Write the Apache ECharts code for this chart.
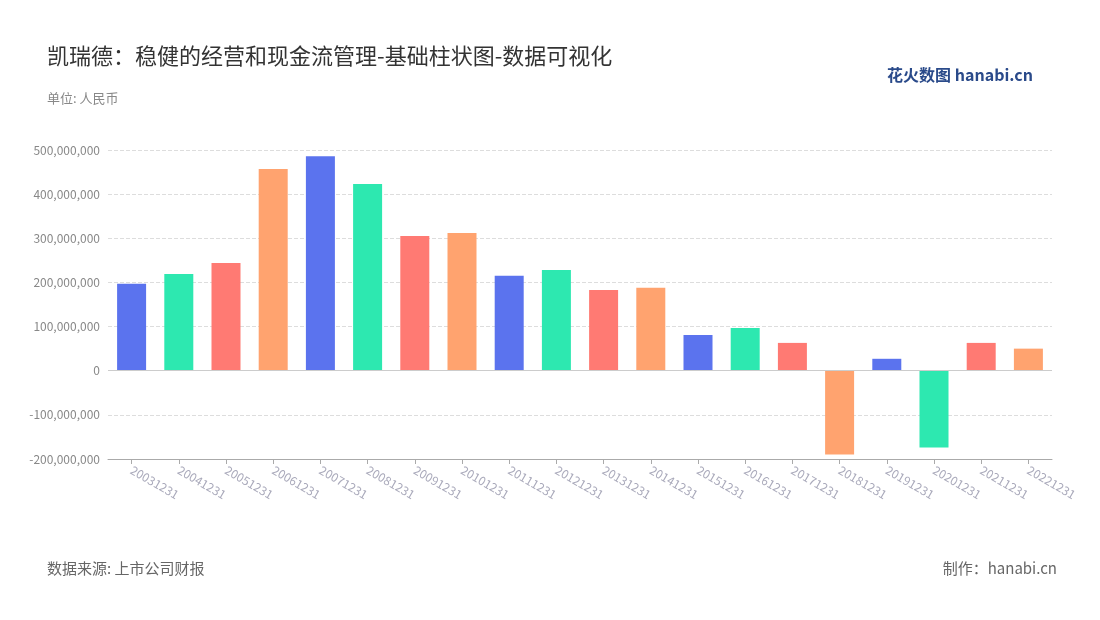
<!DOCTYPE html>
<html><head><meta charset="utf-8">
<script src="https://cdn.jsdelivr.net/npm/echarts@6/dist/echarts.min.js"></script>
<style>html,body{margin:0;padding:0;background:#fff}#c{width:1100px;height:620px}</style>
</head><body><div id="c"></div>
<script>
const categories=['20031231','20041231','20051231','20061231','20071231','20081231','20091231','20101231','20111231','20121231','20131231','20141231','20151231','20161231','20171231','20181231','20191231','20201231','20211231','20221231'];
const values=[197e6,219e6,244e6,457e6,486e6,423e6,305e6,312e6,215e6,228e6,183e6,188e6,81e6,97e6,63e6,-190e6,27e6,-174e6,63e6,50e6];
const palette=['#5b73ee','#2de8b0','#ff7a73','#ffa36f'];
const F='"Noto Sans CJK SC","Noto Sans",sans-serif';
const chart=echarts.init(document.getElementById('c'));
chart.setOption({
 animation:false,
 textStyle:{fontFamily:F},
 title:[
  {text:'凯瑞德：稳健的经营和现金流管理-基础柱状图-数据可视化',left:42,top:40,textStyle:{fontSize:22,fontWeight:'normal',color:'#333',fontFamily:F}},
  {text:'单位: 人民币',left:42,top:87,textStyle:{fontSize:13,fontWeight:'normal',color:'#888',fontFamily:F}},
  {text:'数据来源: 上市公司财报',left:42,top:556,textStyle:{fontSize:15,fontWeight:'normal',color:'#666',fontFamily:F}},
  {text:'制作：hanabi.cn',right:38,top:556,textStyle:{fontSize:15,fontWeight:'normal',color:'#666',fontFamily:F}},
  {text:'花火数图 hanabi.cn',right:62,top:62,textStyle:{fontSize:16,fontWeight:'bold',color:'#2a4a8a',fontFamily:F}}
 ],
 grid:{left:108,right:48,top:150,bottom:161},
 xAxis:{type:'category',data:categories,
  axisLine:{onZero:false,lineStyle:{color:'#aaa'}},axisTick:{show:true,alignWithLabel:true,lineStyle:{color:'#aaa'}},
  axisLabel:{rotate:-30,color:'#aab',fontSize:12,interval:0,margin:10}},
 yAxis:{type:'value',min:-200e6,max:500e6,interval:100e6,
  axisLabel:{color:'#888',fontSize:12,formatter:v=>v.toLocaleString('en-US')},
  splitLine:{lineStyle:{type:'dashed',color:'#ddd'}},axisLine:{show:false}},
 series:[{type:'bar',barWidth:29,data:values.map((v,i)=>({value:v,itemStyle:{color:palette[i%4]}})),
  markLine:{silent:true,symbol:'none',label:{show:false},lineStyle:{color:'#ccc',type:'solid',width:1},data:[{yAxis:0}]}}]
});
</script></body></html>
